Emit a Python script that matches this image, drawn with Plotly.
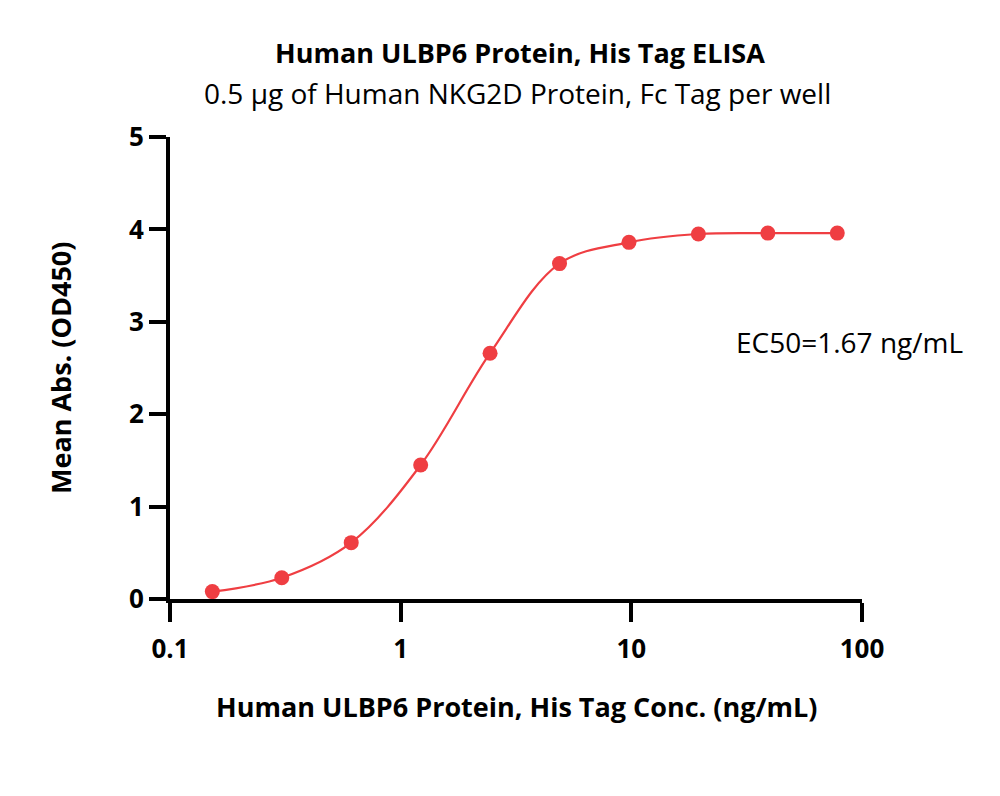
import plotly.graph_objects as go

conc = [0.1526, 0.3052, 0.6104, 1.221, 2.441, 4.883, 9.766, 19.53, 39.06, 78.13]
absorb = [0.08, 0.23, 0.61, 1.45, 2.66, 3.63, 3.86, 3.95, 3.96, 3.96]
x_ticks = [0.1, 1, 10, 100]
x_tick_labels = ["0.1", "1", "10", "100"]
y_ticks = [0, 1, 2, 3, 4, 5]

red = "#ef3e42"
font = "Open Sans"

L, R, T, B = 170, 862, 137, 599
W, H = R - L, B - T

def px(x):
    return (x - L) / W

def py(y):
    return (B - y) / H

fig = go.Figure()
fig.add_trace(go.Scatter(x=conc, y=absorb, mode="lines",
                         line=dict(color=red, width=2.2, shape="spline", smoothing=1.0),
                         hoverinfo="skip", showlegend=False))
fig.add_trace(go.Scatter(x=conc, y=absorb, mode="markers",
                         marker=dict(color=red, size=15),
                         showlegend=False))

fig.update_layout(
    width=1000, height=796,
    paper_bgcolor="white", plot_bgcolor="white",
    margin=dict(l=L, r=1000 - R, t=T, b=796 - B),
    font=dict(family=font, color="black"),
    xaxis=dict(type="log", range=[-1, 2], tickvals=x_ticks, ticktext=x_tick_labels,
               showgrid=False, zeroline=False, showline=True, linecolor="black", linewidth=4,
               ticks="outside", ticklen=19, tickwidth=4, tickcolor="black",
               ticklabelstandoff=5,
               tickfont=dict(family=font, size=26, color="black", weight="bold")),
    yaxis=dict(range=[0, 5], tickvals=y_ticks,
               showgrid=False, zeroline=False, showline=True, linecolor="black", linewidth=4,
               ticks="outside", ticklen=17, tickwidth=4, tickcolor="black",
               tickfont=dict(family=font, size=26, color="black", weight="bold")),
    annotations=[
        dict(text="<b>Human ULBP6 Protein, His Tag ELISA</b>", xref="paper", yref="paper",
             x=px(520), y=py(52), xanchor="center", yanchor="middle",
             showarrow=False, font=dict(family=font, size=27, color="black")),
        dict(text="0.5 µg of Human NKG2D Protein, Fc Tag per well", xref="paper", yref="paper",
             x=px(517), y=py(93), xanchor="center", yanchor="middle",
             showarrow=False, font=dict(family=font, size=28, color="black")),
        dict(text="<b>Human ULBP6 Protein, His Tag Conc. (ng/mL)</b>", xref="paper", yref="paper",
             x=px(517), y=py(706), xanchor="center", yanchor="middle",
             showarrow=False, font=dict(family=font, size=27, color="black")),
        dict(text="<b>Mean Abs. (OD450)</b>", xref="paper", yref="paper",
             x=px(60), y=py(368), xanchor="center", yanchor="middle", textangle=-90,
             showarrow=False, font=dict(family=font, size=27, color="black")),
        dict(text="EC50=1.67 ng/mL", xref="paper", yref="paper",
             x=px(734), y=py(342), xanchor="left", yanchor="middle",
             showarrow=False, font=dict(family=font, size=28, color="black")),
    ],
)

fig.write_html("out.html")
